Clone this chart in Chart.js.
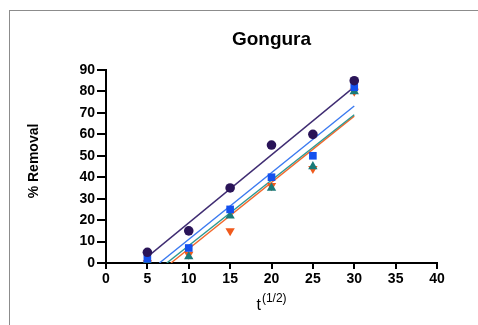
<!DOCTYPE html>
<html>
<head>
<meta charset="utf-8">
<script src="https://cdn.jsdelivr.net/npm/chart.js@4/dist/chart.umd.min.js"></script>
<style>
  html, body { margin: 0; padding: 0; background: #fff; }
  #wrap { position: relative; width: 478px; height: 325px; }
  #frame { position: absolute; left: 9px; top: 10px; width: 470px; height: 320px;
           border-top: 1px solid #8c8c8c; border-left: 1px solid #8c8c8c; pointer-events: none; }
</style>
</head>
<body>
<div id="wrap">
  <canvas id="c" width="478" height="325"></canvas>
  <div id="frame"></div>
</div>
<script>
const FONT = '"Liberation Sans", Arial, Helvetica, sans-serif';

// time points (square root of time) and % removal per run
const timeRoot = [5, 10, 15, 20, 25, 30];
const runA = [5, 15, 35, 55, 60, 85];
const runB = [2, 7, 25, 40, 50, 82];
const runC = [1, 3, 22, 35, 45, 80];
const runD = [0, 4, 15, 36, 44, 80];

const xTicks = [0, 5, 10, 15, 20, 25, 30, 35, 40];
const yTicks = [0, 10, 20, 30, 40, 50, 60, 70, 80, 90];

const chartTitle = 'Gongura';
const xTitleMain = 't';
const xTitleSup = '(1/2)';
const yTitle = '% Removal';

// least-squares straight line through one run, drawn from where it crosses 0 (or the first x) to the last x
function fitLine(xs, ys) {
  const n = xs.length;
  const mx = xs.reduce((a, b) => a + b, 0) / n;
  const my = ys.reduce((a, b) => a + b, 0) / n;
  let sxy = 0, sxx = 0;
  for (let i = 0; i < n; i++) { sxy += (xs[i] - mx) * (ys[i] - my); sxx += (xs[i] - mx) ** 2; }
  const m = sxy / sxx, b = my - m * mx;
  const x0 = Math.max(xs[0], -b / m), x1 = xs[n - 1];
  return [{ x: x0, y: m * x0 + b }, { x: x1, y: m * x1 + b }];
}

const pts = ys => timeRoot.map((x, i) => ({ x, y: ys[i] }));

const series = [
  { data: runA, point: '#2a1458', line: '#3f2c72', style: 'circle', rot: 0, r: 4.8 },
  { data: runB, point: '#1450ee', line: '#3b7af0', style: 'rect', rot: 0, r: 5.4 },
  { data: runC, point: '#197a78', line: '#2c9893', style: 'triangle', rot: 0, r: 5.4 },
  { data: runD, point: '#f05a1c', line: '#f2692c', style: 'triangle', rot: 180, r: 5.4 }
];

const datasets = [];
series.forEach((s, i) => {
  datasets.push({
    type: 'scatter', data: pts(s.data), order: i,
    pointStyle: s.style, rotation: s.rot, pointRadius: s.r,
    backgroundColor: s.point, borderColor: s.point, borderWidth: 0, showLine: false
  });
});
series.forEach((s, i) => {
  datasets.push({
    type: 'line', data: fitLine(timeRoot, s.data), order: 10 + i,
    borderColor: s.line, borderWidth: 1.4, pointRadius: 0, fill: false, tension: 0
  });
});

const textPlugin = {
  id: 'texts',
  afterDraw(chart) {
    const { ctx, chartArea } = chart;
    const cx = (chartArea.left + chartArea.right) / 2;
    ctx.save();
    ctx.fillStyle = '#000';
    ctx.textBaseline = 'alphabetic';
    ctx.textAlign = 'center';
    ctx.font = 'bold 19px ' + FONT;
    ctx.fillText(chartTitle, cx, 45);

    ctx.font = '16px ' + FONT;
    const wMain = ctx.measureText(xTitleMain).width;
    ctx.font = '12px ' + FONT;
    const wSup = ctx.measureText(xTitleSup).width;
    const start = cx - (wMain + wSup + 1) / 2;
    ctx.textAlign = 'left';
    ctx.font = '16px ' + FONT;
    ctx.fillText(xTitleMain, start, 310);
    ctx.font = '12px ' + FONT;
    ctx.fillText(xTitleSup, start + wMain + 1, 302);

    ctx.translate(38, 161);
    ctx.rotate(-Math.PI / 2);
    ctx.textAlign = 'center';
    ctx.font = 'bold 14px ' + FONT;
    ctx.fillText(yTitle, 0, 0);
    ctx.restore();
  }
};

new Chart(document.getElementById('c'), {
  data: { datasets },
  plugins: [textPlugin],
  options: {
    responsive: false,
    animation: false,
    devicePixelRatio: 1,
    layout: { padding: { top: 70, right: 41, left: 0, bottom: 0 } },
    plugins: { legend: { display: false }, title: { display: false }, tooltip: { enabled: false } },
    scales: {
      x: {
        type: 'linear', min: 0, max: 40,
        afterFit(s) { s.height = 62; },
        afterBuildTicks(s) { s.ticks = xTicks.map(v => ({ value: v })); },
        border: { color: '#000', width: 2 },
        grid: { drawOnChartArea: false, drawTicks: true, tickLength: 6, color: '#000', lineWidth: 2 },
        ticks: { color: '#000', font: { family: FONT, size: 14, weight: 'bold' }, padding: 2, maxRotation: 0 }
      },
      y: {
        type: 'linear', min: 0, max: 90,
        afterFit(s) { s.width = 106; },
        afterBuildTicks(s) { s.ticks = yTicks.map(v => ({ value: v })); },
        border: { color: '#000', width: 2 },
        grid: { drawOnChartArea: false, drawTicks: true, tickLength: 9, color: '#000', lineWidth: 2 },
        ticks: { color: '#000', font: { family: FONT, size: 14, weight: 'bold' }, padding: 2 }
      }
    }
  }
});
</script>
</body>
</html>
